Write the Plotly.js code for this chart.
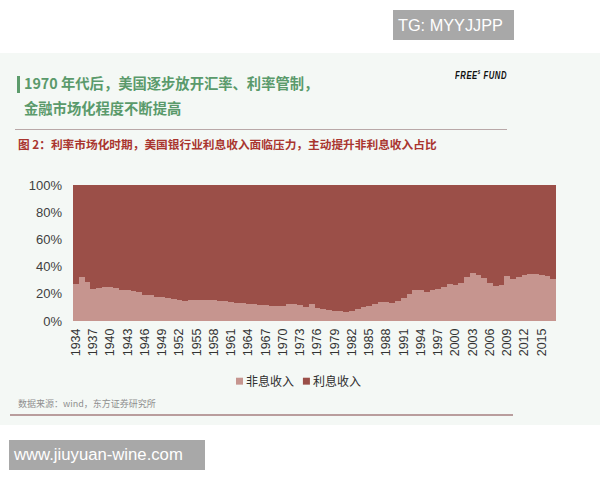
<!DOCTYPE html>
<html>
<head>
<meta charset="utf-8">
<script src="https://cdn.plot.ly/plotly-3.0.1.min.js"></script>
<style>
  html, body { margin:0; padding:0; background:#ffffff; }
  body { width:600px; height:480px; position:relative; overflow:hidden; font-family:"Noto Sans CJK SC","Liberation Sans",sans-serif; }
  #panel { position:absolute; left:0; top:53px; width:600px; height:372px; background:#f4f8f5; }
  #chart { position:absolute; left:0; top:0; width:600px; height:480px; }
  .abs { position:absolute; white-space:nowrap; }
  #tg { left:393px; top:10px; width:121px; height:30px; background:#a8a8a8; color:#fff; font-family:"Liberation Sans",sans-serif; font-size:16.3px; line-height:30px; padding-left:5px; box-sizing:border-box; }
  #www { left:9px; top:440px; width:196px; height:30px; background:#a8a8a8; color:#fff; font-family:"Liberation Sans",sans-serif; font-size:16.7px; line-height:30px; padding-left:5px; box-sizing:border-box; }
  #gbar { left:17px; top:76px; width:3px; height:17px; background:#5c9c6c; }
  .t1 { left:24px; color:#5a9a6b; font-size:14.3px; font-weight:bold; line-height:20px; }
  #logo { left:455px; top:69px; font-family:"Liberation Sans",sans-serif; font-style:italic; font-weight:bold; font-size:11px; letter-spacing:0.8px; color:#111; transform-origin:0 0; }
  #logo sup { font-size:6px; }
  #hline { left:15px; top:129px; width:492px; height:1px; background:#b9a8a8; }
  #sub { left:18px; top:135px; color:#a9352f; font-size:11.7px; font-weight:bold; line-height:18px; }
  #src { left:18px; top:397px; color:#8f8f8f; font-size:9px; line-height:14px; }
  #fline { left:10px; top:414px; width:503px; height:2px; background:#b99d9d; }
</style>
</head>
<body>
<div id="panel"></div>
<div class="abs" id="tg">TG: MYYJJPP</div>
<div class="abs" id="gbar"></div>
<div class="abs t1" style="top:73px;">1970 年代后，美国逐步放开汇率、利率管制，</div>
<div class="abs t1" style="top:98px;">金融市场化程度不断提高</div>
<div class="abs" id="logo">FREE<sup>$</sup> FUND</div>
<div class="abs" id="hline"></div>
<div class="abs" id="sub">图 2：利率市场化时期，美国银行业利息收入面临压力，主动提升非利息收入占比</div>
<div class="abs" id="src">数据来源：wind，东方证券研究所</div>
<div class="abs" id="fline"></div>
<div class="abs" id="www">www.jiuyuan-wine.com</div>
<div id="chart"></div>
<script>
// Years 1934-2017
const years = [];
for (let y = 1934; y <= 2017; y++) years.push(y);

// 非息收入 share (%)
const nonInterest = [
  27.2, 32.6, 28.6, 23.8, 24.5, 24.8, 25.0, 24.5, 23.0, 23.0,
  21.8, 21.6, 19.4, 18.8, 18.0, 17.5, 17.0, 16.2, 15.2, 14.8,
  15.4, 15.6, 15.4, 15.3, 15.2, 14.8, 14.6, 14.0, 13.6, 13.0,
  12.6, 12.2, 11.9, 11.6, 11.4, 11.2, 11.4, 12.3, 12.4, 11.5,
  10.3, 12.8, 9.6, 8.8, 8.1, 7.7, 7.2, 6.8, 7.5, 8.8,
  10.0, 11.2, 12.8, 13.8, 13.8, 13.5, 14.6, 17.2, 20.1, 23.0,
  22.9, 21.6, 22.9, 23.5, 24.8, 27.2, 26.5, 28.2, 32.3, 35.0,
  34.0, 31.4, 28.2, 25.7, 26.8, 33.1, 31.2, 32.3, 33.7, 34.3,
  34.2, 34.0, 32.8, 31.1
];
// 利息收入 share (%) = remainder of the total
const interest = nonInterest.map(v => Math.round((100 - v) * 10) / 10);

const tickYears = [];
for (let y = 1934; y <= 2015; y += 3) tickYears.push(y);
const yTicks = [0, 20, 40, 60, 80, 100];
const yTickText = ['0%', '20%', '40%', '60%', '80%', '100%'];

const seriesNames = ['非息收入', '利息收入'];
const seriesColors = ['#c6958f', '#9b4f48'];

const traces = [
  { type:'bar', name:seriesNames[0], x:years, y:nonInterest, marker:{color:seriesColors[0], line:{width:0}}, hoverinfo:'x+y', showlegend:false },
  { type:'bar', name:seriesNames[1], x:years, y:interest, marker:{color:seriesColors[1], line:{width:0}}, hoverinfo:'x+y', showlegend:false }
];

// compact legend: small square swatch + label (paper coordinates)
const legX = [0.3375, 0.476];
const shapes = [], annotations = [];
seriesNames.forEach((n, i) => {
  shapes.push({type:'rect', xref:'paper', yref:'paper', x0:legX[i], x1:legX[i] + 0.0145,
               y0:-0.468, y1:-0.417, fillcolor:seriesColors[i], line:{width:0}});
  annotations.push({xref:'paper', yref:'paper', x:legX[i] + 0.0165, y:-0.441, xanchor:'left', yanchor:'middle',
                    text:n, showarrow:false, font:{family:'Noto Sans CJK SC', size:12, color:'#2e2e2e'}});
});

const layout = {
  width:600, height:480,
  paper_bgcolor:'rgba(0,0,0,0)',
  plot_bgcolor:'rgba(0,0,0,0)',
  margin:{l:73, r:44, t:185, b:159, pad:0},
  barmode:'stack',
  bargap:0,
  showlegend:false,
  shapes:shapes,
  annotations:annotations,
  xaxis:{
    range:[1933.5, 2017.5], tickvals:tickYears, ticktext:tickYears.map(String),
    tickangle:-90, showgrid:false, zeroline:false, showline:false, ticks:'',
    ticklabelstandoff:4,
    tickfont:{family:'Liberation Sans', size:12.5, color:'#333'}
  },
  yaxis:{
    range:[0, 100], tickvals:yTicks, ticktext:yTickText,
    showgrid:false, zeroline:false, showline:false, ticks:'',
    ticklabelstandoff:10,
    tickfont:{family:'Liberation Sans', size:13, color:'#404040'}
  }
};

// fit the small logo to its width in the reference
const logo = document.getElementById('logo');
const lw = logo.getBoundingClientRect().width;
logo.style.transform = 'scaleX(' + (52 / lw) + ')';

Plotly.newPlot('chart', traces, layout, {displayModeBar:false, staticPlot:true});
</script>
</body>
</html>
